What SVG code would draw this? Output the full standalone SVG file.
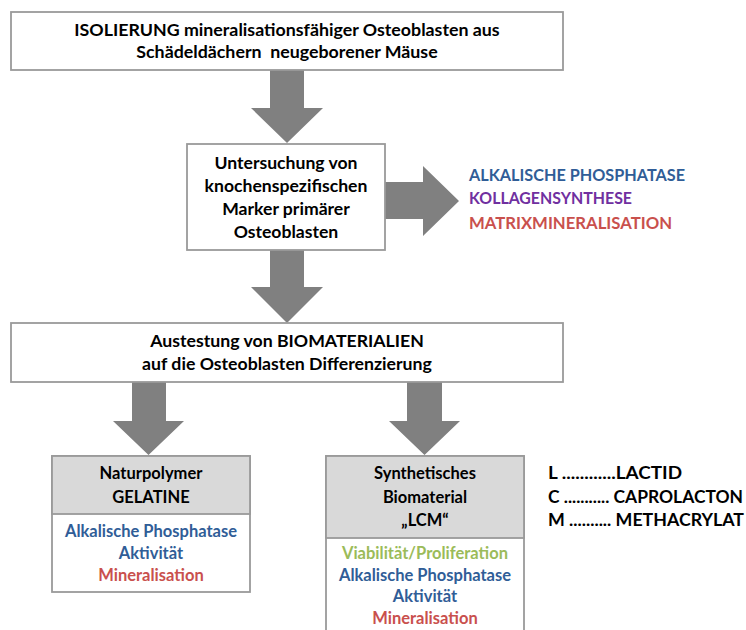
<svg xmlns="http://www.w3.org/2000/svg" width="746" height="630" viewBox="0 0 746 630">
<style>
text{font-family:Lato,"Liberation Sans",sans-serif;font-weight:bold;fill:#000}
.c{text-anchor:middle}
.box{fill:#fff;stroke:#9a9a9a;stroke-width:1.8}
.hdr{fill:#d9d9d9;stroke:#9a9a9a;stroke-width:1.8}
.arr{fill:#808080}
.blue{fill:#305d97}
.purple{fill:#7030a0}
.red{fill:#c9504d}
.green{fill:#9bbb59}
.f1{font-size:17.8px}
.f2{font-size:17.6px}
.f3{font-size:17.7px}
.f17{font-size:17.5px}
.f16{font-size:16.5px}
</style>
<rect width="746" height="630" fill="#fff"/>
<g id="connectors">
<polygon class="arr" points="270,70 304,70 304,108 323,108 287,143 251,108 270,108"/>
<polygon class="arr" points="270,250 304,250 304,287 323,287 287,323 251,287 270,287"/>
<polygon class="arr" points="385,182 423,182 423,166 459,201 423,236 423,219 385,219"/>
<polygon class="arr" points="132,382 166,382 166,421 184,421 148.5,455 113,421 132,421"/>
<polygon class="arr" points="407,382 442,382 442,421 460,421 424.5,455 389,421 407,421"/>
</g>
<g id="isolierung">
<rect class="box" x="11" y="12" width="552" height="58"/>
<text class="c f1" x="287" y="36">ISOLIERUNG mineralisationsfähiger Osteoblasten aus</text>
<text class="c f1" x="287" y="58" xml:space="preserve">Schädeldächern  neugeborener Mäuse</text>
</g>
<g id="untersuchung">
<rect class="box" x="187" y="144" width="198" height="106"/>
<text class="c f2" x="286" y="168.5">Untersuchung von</text>
<text class="c f2" x="286" y="191.5">knochenspezifischen</text>
<text class="c f2" x="286" y="214.5">Marker primärer</text>
<text class="c f2" x="286" y="237.5">Osteoblasten</text>
</g>
<g id="marker">
<text class="f17 blue" x="469" y="181" textLength="216" lengthAdjust="spacingAndGlyphs">ALKALISCHE PHOSPHATASE</text>
<text class="f17 purple" x="469" y="204" textLength="163" lengthAdjust="spacingAndGlyphs">KOLLAGENSYNTHESE</text>
<text class="f17 red" x="469" y="228.5" textLength="203" lengthAdjust="spacingAndGlyphs">MATRIXMINERALISATION</text>
</g>
<g id="austestung">
<rect class="box" x="11" y="323" width="552" height="59"/>
<text class="c f3" x="287" y="347">Austestung von BIOMATERIALIEN</text>
<text class="c f3" x="287" y="370">auf die Osteoblasten Differenzierung</text>
</g>
<g id="gelatine">
<rect class="box" x="52" y="456" width="198" height="136"/>
<rect class="hdr" x="52" y="456" width="198" height="58"/>
<text class="c f16" x="151" y="479">Naturpolymer</text>
<text class="c f16" x="151" y="502.5">GELATINE</text>
<text class="c f16 blue" x="151" y="536.5">Alkalische Phosphatase</text>
<text class="c f16 blue" x="151" y="559">Aktivität</text>
<text class="c f16 red" x="151" y="580.5">Mineralisation</text>
</g>
<g id="lcm">
<rect class="box" x="326" y="456" width="198" height="180"/>
<rect class="hdr" x="326" y="456" width="198" height="82"/>
<text class="c f16" x="425" y="479">Synthetisches</text>
<text class="c f16" x="425" y="503">Biomaterial</text>
<text class="c f16" x="425" y="525.5">„LCM“</text>
<text class="c f16 green" x="425" y="559">Viabilität/Proliferation</text>
<text class="c f16 blue" x="425" y="580.5">Alkalische Phosphatase</text>
<text class="c f16 blue" x="425" y="602">Aktivität</text>
<text class="c f16 red" x="425" y="624">Mineralisation</text>
</g>
<g id="legende">
<text class="f16" x="548" y="479" textLength="134" lengthAdjust="spacingAndGlyphs">L ............LACTID</text>
<text class="f16" x="548" y="503" textLength="195" lengthAdjust="spacingAndGlyphs">C ........... CAPROLACTON</text>
<text class="f16" x="548" y="525.5" textLength="196" lengthAdjust="spacingAndGlyphs">M .......... METHACRYLAT</text>
</g>
</svg>
